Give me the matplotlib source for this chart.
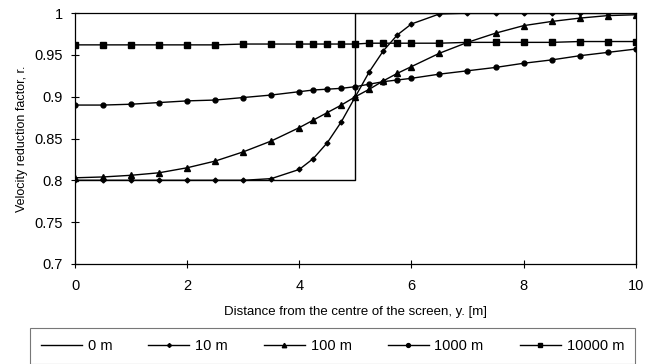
import matplotlib
matplotlib.use('Agg')
import matplotlib.pyplot as plt

plt.rcParams['font.family'] = ['Liberation Sans', 'DejaVu Sans']

# distance from the centre of the screen [m]
dist = [0, 0.5, 1, 1.5, 2, 2.5, 3, 3.5, 4, 4.25, 4.5, 4.75, 5,
        5.25, 5.5, 5.75, 6, 6.5, 7, 7.5, 8, 8.5, 9, 9.5, 10]

# 0 m is a step at the screen edge
dist_0m = [0, 5, 5, 10]
r_0m = [0.8, 0.8, 1.0, 1.0]

r_10m = [0.800, 0.800, 0.800, 0.800, 0.800, 0.800, 0.800, 0.802, 0.813,
         0.826, 0.845, 0.870, 0.900, 0.930, 0.955, 0.974, 0.987, 0.999,
         1.000, 1.000, 1.000, 1.000, 1.000, 1.000, 1.000]
r_100m = [0.803, 0.804, 0.806, 0.809, 0.815, 0.823, 0.834, 0.847, 0.863,
          0.872, 0.881, 0.890, 0.900, 0.909, 0.919, 0.928, 0.936, 0.952,
          0.965, 0.976, 0.985, 0.990, 0.994, 0.997, 0.998]
r_1000m = [0.890, 0.890, 0.891, 0.893, 0.895, 0.896, 0.899, 0.902, 0.906,
           0.908, 0.909, 0.910, 0.912, 0.915, 0.918, 0.920, 0.922, 0.927,
           0.931, 0.935, 0.940, 0.944, 0.949, 0.953, 0.957]
r_10000m = [0.962, 0.962, 0.962, 0.962, 0.962, 0.962, 0.963, 0.963, 0.963,
            0.963, 0.963, 0.963, 0.963, 0.964, 0.964, 0.964, 0.964, 0.964,
            0.965, 0.965, 0.965, 0.965, 0.966, 0.966, 0.966]

labels = ['0 m', '10 m', '100 m', '1000 m', '10000 m']

fig = plt.figure(figsize=(6.5, 3.64), dpi=100)
ax = fig.add_axes([0.1154, 0.275, 0.8626, 0.689])

ax.plot(dist_0m, r_0m, color='black', lw=1.0, label=labels[0])
ax.plot(dist, r_10m, color='black', lw=1.0, marker='D', ms=2.5, label=labels[1])
ax.plot(dist, r_100m, color='black', lw=1.0, marker='^', ms=4, label=labels[2])
ax.plot(dist, r_1000m, color='black', lw=1.0, marker='o', ms=3.5, label=labels[3])
ax.plot(dist, r_10000m, color='black', lw=1.0, marker='s', ms=4, label=labels[4])

ax.set_xlim(0, 10)
ax.set_ylim(0.7, 1.0)
ax.set_xticks([0, 2, 4, 6, 8, 10])
ax.set_yticks([0.7, 0.75, 0.8, 0.85, 0.9, 0.95, 1.0])
ax.set_yticklabels(['0.7', '0.75', '0.8', '0.85', '0.9', '0.95', '1'])
ax.tick_params(direction='inout', length=6, width=0.8, labelsize=10.5, pad=6)
ax.tick_params(axis='x', pad=8)
for s in ax.spines.values():
    s.set_linewidth(0.9)

ax.set_ylabel('Velocity reduction factor, r.', fontsize=9, labelpad=4)
ax.set_xlabel('Distance from the centre of the screen, y. [m]', fontsize=9.5, labelpad=9)

# legend box hangs from y=328 px and almost touches the bottom edge
leg = fig.legend(loc='upper left', bbox_to_anchor=(30/650, 0, 605/650, 36/364),
                 mode='expand', ncol=5, fontsize=10.5, handlelength=2.8,
                 handletextpad=0.4, markerscale=0.8,
                 fancybox=False, edgecolor='#555555', borderaxespad=0,
                 borderpad=0.75)
leg.get_frame().set_linewidth(0.8)

fig.savefig('out.png', dpi=100)
